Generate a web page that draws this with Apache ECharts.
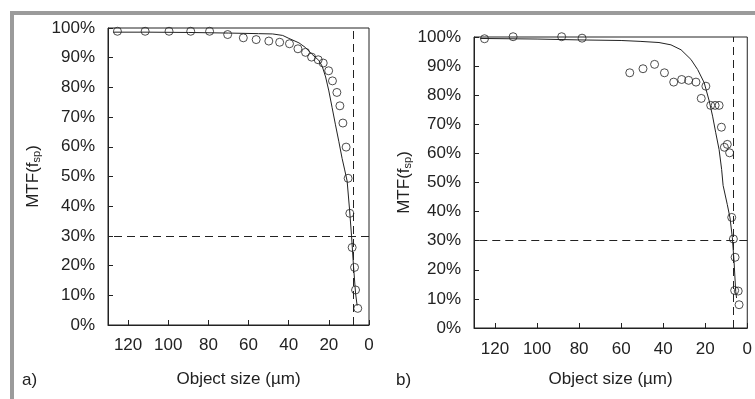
<!DOCTYPE html>
<html>
<head>
<meta charset="utf-8">
<script src="https://cdn.jsdelivr.net/npm/echarts@6/dist/echarts.min.js"></script>
<style>
  html, body { margin: 0; padding: 0; background: #fff; }
  #chart { width: 755px; height: 399px; }
</style>
</head>
<body>
<div id="chart"></div>
<script>
  // measured points, panel a
  const sizeA = [125.3, 111.5, 99.6, 88.8, 79.4, 70.4, 62.6, 56.2, 49.9, 44.5, 39.6, 35.4, 31.6, 28.6,
    25.3, 22.8, 20.1, 18.2, 16.0, 14.5, 13.0, 11.4, 10.4, 9.55, 8.4, 7.2, 6.7, 5.6];
  const mtfA = [98.9, 98.9, 98.9, 98.9, 98.9, 97.8, 96.7, 96.1, 95.6, 95.2, 94.7, 93.0, 91.8, 90.2,
    89.3, 88.2, 85.6, 82.2, 78.3, 73.8, 68.0, 59.9, 49.4, 37.6, 26.1, 19.4, 11.8, 5.6];
  // model curve, panel a
  const curveSizeA = [127.5, 110, 90, 70, 55, 48, 43, 39.9, 34.9, 31.6, 28.3, 25, 23.3, 21.6, 20, 18.4,
    16.7, 15, 13.4, 12.2, 10.9, 9.7, 8.7, 7.7, 6.7, 5.9];
  const curveMtfA = [98.6, 98.6, 98.5, 98.3, 98.1, 98.0, 97.5, 96.5, 95.0, 93.4, 91.1, 89.1, 87.1, 83.5,
    78.8, 73.3, 67.4, 61.7, 56.1, 52.5, 48.5, 39.0, 30.0, 19.7, 10.7, 6.5];

  // measured points, panel b
  const sizeB = [125.0, 111.4, 88.3, 78.6, 55.9, 49.6, 44.1, 39.4, 35.0, 31.2, 27.9, 24.4, 19.7, 21.9,
    17.4, 15.3, 13.4, 12.3, 10.9, 9.5, 8.4, 7.4, 6.6, 5.8, 6.0, 4.3, 3.9];
  const mtfB = [99.4, 100.1, 100.1, 99.6, 87.7, 89.1, 90.6, 87.7, 84.5, 85.4, 85.1, 84.5, 83.1, 78.9,
    76.5, 76.5, 76.5, 69.0, 62.1, 63.1, 60.2, 38.0, 30.6, 24.3, 12.9, 12.7, 8.0];
  // model curve, panel b
  const curveSizeB = [127, 100, 80, 60, 51, 42, 36.3, 31.5, 26.8, 23.6, 20.5, 18.1, 16.5, 15, 13.4, 12.2,
    11.5, 9.5, 8.2, 7.1, 6.3, 5.5, 5.1];
  const curveMtfB = [99.5, 99.3, 99.0, 98.8, 98.5, 98.1, 97.3, 95.6, 92.3, 88.8, 84.3, 78.0, 72.8, 67.1,
    61.3, 54.5, 49.0, 42.4, 37.8, 31.0, 23.0, 12.6, 10.3];

  const xTicks = [0, 20, 40, 60, 80, 100, 120];
  const cutoffA = 7.8;
  const cutoffB = 6.6;
  const threshold = 30;

  const ink = '#222';
  const font = 'Liberation Sans, Arial, sans-serif';

  function pairs(xs, ys) {
    return xs.map((x, i) => [x, ys[i]]);
  }

  function xAxisFor(idx, gap, margin) {
    return {
      type: 'value', gridIndex: idx, inverse: true, min: 0, max: 130, interval: 20,
      name: 'Object size (µm)', nameLocation: 'middle', nameGap: gap,
      nameTextStyle: { fontSize: 17, color: ink, fontFamily: font },
      axisLine: { show: true, onZero: false, lineStyle: { color: ink } },
      axisTick: { show: true, inside: true, length: 5, lineStyle: { color: ink } },
      axisLabel: {
        margin: margin, fontSize: 17, color: ink, fontFamily: font, showMaxLabel: false,
        formatter: v => (xTicks.indexOf(v) >= 0 ? String(v) : '')
      },
      splitLine: { show: false }
    };
  }

  function yAxisFor(idx, gap) {
    return {
      type: 'value', gridIndex: idx, min: 0, max: 100, interval: 10,
      name: 'MTF(f{s|sp})', nameLocation: 'middle', nameGap: gap, nameRotate: 90,
      nameTextStyle: {
        fontSize: 17, color: ink, fontFamily: font,
        rich: { s: { fontSize: 11, color: ink, fontFamily: font, padding: [7, 0, 0, 0] } }
      },
      axisLine: { show: true, onZero: false, lineStyle: { color: ink } },
      axisTick: { show: true, inside: true, length: 5, lineStyle: { color: ink } },
      axisLabel: { margin: 13, fontSize: 17, color: ink, fontFamily: font, formatter: '{value}%' },
      splitLine: { show: false }
    };
  }

  function curveSeries(idx, data, cutoff) {
    return {
      type: 'line', xAxisIndex: idx, yAxisIndex: idx, data: data,
      showSymbol: false, symbol: 'none', silent: true,
      lineStyle: { color: ink, width: 1 },
      markLine: {
        silent: true, symbol: 'none', label: { show: false },
        lineStyle: { color: ink, width: 1, type: [8, 5] },
        data: [{ xAxis: cutoff }, { yAxis: threshold }]
      }
    };
  }

  function pointSeries(idx, data) {
    return {
      type: 'scatter', xAxisIndex: idx, yAxisIndex: idx, data: data, clip: false,
      symbol: 'circle', symbolSize: 8, silent: true,
      itemStyle: { color: 'rgba(0,0,0,0)', borderColor: ink, borderWidth: 1 }
    };
  }

  const chart = echarts.init(document.getElementById('chart'));
  const option = {
    animation: false,
    backgroundColor: '#fff',
    grid: [
      { left: 108, top: 28, width: 261, height: 297, show: true, borderColor: ink, borderWidth: 1 },
      { left: 474, top: 37, width: 277, height: 291, show: true, borderColor: ink, borderWidth: 1 }
    ],
    xAxis: [xAxisFor(0, 46, 12), xAxisFor(1, 43, 13)],
    yAxis: [yAxisFor(0, 66), yAxisFor(1, 60)],
    graphic: [
      { type: 'rect', shape: { x: 10, y: 11, width: 745, height: 4 }, style: { fill: '#9b9b9b' } },
      { type: 'rect', shape: { x: 10, y: 11, width: 4, height: 388 }, style: { fill: '#9b9b9b' } },
      { type: 'text', left: 22, top: 372, style: { text: 'a)', fontSize: 17, fill: ink, fontFamily: font } },
      { type: 'text', left: 396, top: 372, style: { text: 'b)', fontSize: 17, fill: ink, fontFamily: font } }
    ],
    series: [
      curveSeries(0, pairs(curveSizeA, curveMtfA), cutoffA),
      pointSeries(0, pairs(sizeA, mtfA)),
      curveSeries(1, pairs(curveSizeB, curveMtfB), cutoffB),
      pointSeries(1, pairs(sizeB, mtfB))
    ]
  };
  chart.setOption(option);
</script>
</body>
</html>
